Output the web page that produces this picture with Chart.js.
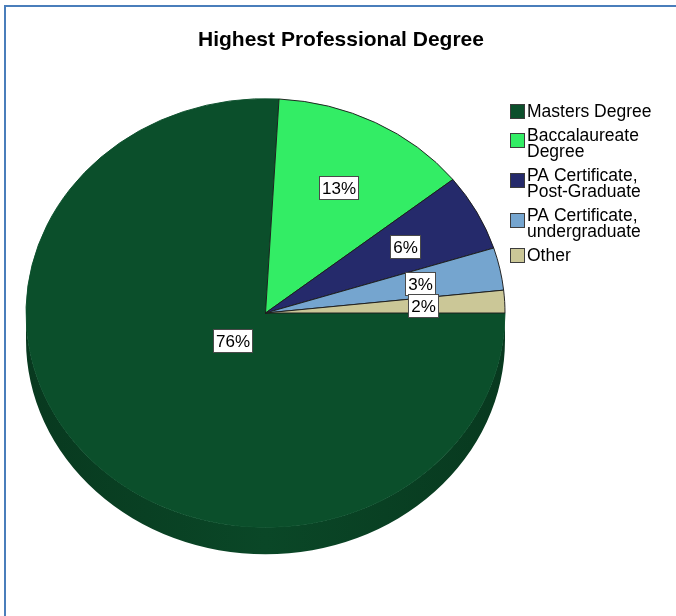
<!DOCTYPE html>
<html>
<head>
<meta charset="utf-8">
<title>Highest Professional Degree</title>
<script src="https://cdn.jsdelivr.net/npm/chart.js@4.4.1/dist/chart.umd.min.js"></script>
<style>
  html, body { margin: 0; padding: 0; background: #fff; }
  #wrap { position: relative; width: 676px; height: 616px; overflow: hidden; }
  #frame {
    position: absolute; left: 4px; top: 5px; right: -10px; bottom: -10px;
    border-left: 2px solid #4a7ebb; border-top: 2px solid #4a7ebb;
  }
  #degreeChart { position: absolute; left: 0; top: 0; }
</style>
</head>
<body>
<div id="wrap">
  <div id="frame"></div>
  <canvas id="degreeChart" width="676" height="616"></canvas>
</div>
<script>
const chartTitle = 'Highest Professional Degree'
const degrees = ['Masters Degree', 'Baccalaureate Degree', 'PA Certificate, Post-Graduate', 'PA Certificate, undergraduate', 'Other']
const percents = [75.9, 13.4, 5.8, 3.2, 1.7]
const sliceColors = ['#0b4f2b', '#33ed65', '#252a6b', '#75a5cf', '#cbc797']

const FONT = "'Liberation Sans', Arial, sans-serif"
const squash = 0.895   // the pie is tilted, so the top face is an ellipse
const depth = 27       // height of the side wall (px)

// darken a hex colour for the side wall
const darken = (hex, f) => {
  const n = parseInt(hex.slice(1), 16)
  const r = Math.round(((n >> 16) & 255) * f)
  const g = Math.round(((n >> 8) & 255) * f)
  const b = Math.round((n & 255) * f)
  return `rgb(${r},${g},${b})`
}

const wrapText = (ctx, text, maxW) => {
  const words = text.split(' ')
  const lines = []
  let cur = ''
  words.forEach(w => {
    const test = cur ? cur + ' ' + w : w
    if (cur && ctx.measureText(test).width > maxW) {
      lines.push(cur)
      cur = w
    } else {
      cur = test
    }
  })
  if (cur) lines.push(cur)
  return lines
}

const tiltPlugin = {
  id: 'tilt',
  beforeDatasetsDraw(chart) {
    const ctx = chart.ctx
    const arcs = chart.getDatasetMeta(0).data
    const {x, y, outerRadius: r} = arcs[0].getProps(['x', 'y', 'outerRadius'], true)

    ctx.save()
    ctx.translate(x, y)
    ctx.scale(1, squash)
    ctx.translate(-x, -y)

    // side wall, only the front half (0..PI) can be seen
    const grad = ctx.createLinearGradient(x - r, 0, x + r, 0)
    grad.addColorStop(0, darken(sliceColors[0], 0.72))
    grad.addColorStop(0.5, darken(sliceColors[0], 0.9))
    grad.addColorStop(1, darken(sliceColors[0], 0.72))

    arcs.forEach((arc, i) => {
      const p = arc.getProps(['startAngle', 'endAngle'], true)
      const a0 = Math.max(p.startAngle, 0)
      const a1 = Math.min(p.endAngle, Math.PI)
      if (a1 <= a0) return
      ctx.beginPath()
      ctx.arc(x, y, r, a0, a1)
      ctx.arc(x, y + depth / squash, r, a1, a0, true)
      ctx.closePath()
      ctx.fillStyle = i === 0 ? grad : darken(sliceColors[i], 0.8)
      ctx.fill()
    })
    // transform stays on while the slices are drawn
  },
  afterDatasetsDraw(chart) {
    const ctx = chart.ctx
    ctx.restore()

    const arcs = chart.getDatasetMeta(0).data
    const total = percents.reduce((a, b) => a + b, 0)

    // percentage labels
    ctx.save()
    ctx.font = `17px ${FONT}`
    ctx.textAlign = 'center'
    ctx.textBaseline = 'middle'
    arcs.forEach((arc, i) => {
      const p = arc.getProps(['x', 'y', 'startAngle', 'endAngle', 'outerRadius'], true)
      const mid = (p.startAngle + p.endAngle) / 2
      const frac = i === 0 ? 0.19 : 0.66
      const lx = p.x + Math.cos(mid) * p.outerRadius * frac
      const ly = p.y + Math.sin(mid) * p.outerRadius * frac * squash
      const txt = Math.round(percents[i] / total * 100) + '%'
      const w = Math.round(ctx.measureText(txt).width) + 5
      const h = 23
      const bx = Math.round(lx - w / 2) + 0.5
      const by = Math.round(ly - h / 2) + 0.5
      ctx.fillStyle = '#fff'
      ctx.fillRect(bx, by, w, h)
      ctx.strokeStyle = '#4a4a4a'
      ctx.lineWidth = 1
      ctx.strokeRect(bx, by, w, h)
      ctx.fillStyle = '#000'
      ctx.fillText(txt, bx + w / 2, by + h / 2 + 1)
    })
    ctx.restore()
  },
  afterDraw(chart) {
    const ctx = chart.ctx
    ctx.save()

    // title
    ctx.font = `bold 21px ${FONT}`
    ctx.fillStyle = '#000'
    ctx.textAlign = 'center'
    ctx.textBaseline = 'middle'
    ctx.fillText(chartTitle, 341, 40)

    // legend
    ctx.font = `17.5px ${FONT}`
    ctx.textAlign = 'left'
    let y = 111
    degrees.forEach((name, i) => {
      const lines = wrapText(ctx, name, 135)
      const boxMid = lines.length > 1 ? y + 5 : y
      ctx.fillStyle = sliceColors[i]
      ctx.fillRect(510, Math.round(boxMid - 7.5), 15, 15)
      ctx.strokeStyle = '#3c3c3c'
      ctx.lineWidth = 1
      ctx.strokeRect(510.5, Math.round(boxMid - 7.5) + 0.5, 14, 14)
      ctx.fillStyle = '#000'
      lines.forEach((ln, k) => ctx.fillText(ln, 527, y + k * 16 + 1))
      y += (lines.length - 1) * 16 + 24
    })
    ctx.restore()
  }
}

const ctx = document.getElementById('degreeChart').getContext('2d')
const degreeChart = new Chart(ctx, {
  type: 'pie',
  data: {
    labels: degrees,
    datasets: [{
      data: percents,
      backgroundColor: sliceColors,
      borderColor: sliceColors.map((c, i) => i === 0 ? c : '#1c1c1c'),
      borderWidth: 1,
      clip: false
    }]
  },
  options: {
    responsive: false,
    devicePixelRatio: 1,
    animation: false,
    rotation: 90,
    layout: {
      padding: { left: 25, top: 73, right: 170, bottom: 63 }
    },
    plugins: {
      legend: { display: false },
      title: { display: false },
      tooltip: { enabled: false }
    }
  },
  plugins: [tiltPlugin]
})
</script>
</body>
</html>
